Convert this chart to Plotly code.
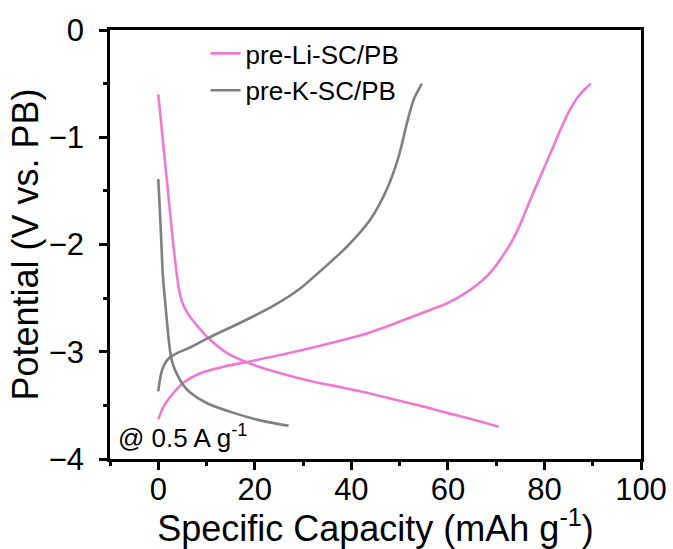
import plotly.graph_objects as go

# ---- data ----
li_dis_x = [0, 1.0, 2.0, 3.0, 3.9, 4.3, 4.9, 5.8, 7.0, 8.5, 10.1, 14.2, 19.0, 25.3, 32.2, 37.7, 43.0, 49.4, 54.0, 59.8, 65.0, 70.5]
li_dis_y = [-0.60, -1.05, -1.50, -1.95, -2.30, -2.42, -2.53, -2.62, -2.70, -2.78, -2.86, -3.01, -3.11, -3.20, -3.28, -3.33, -3.38, -3.45, -3.50, -3.57, -3.63, -3.70]

li_chg_x = [0, 1.0, 2.5, 5.2, 8.7, 13.5, 19.0, 27.3, 35.6, 42.5, 49.4, 56.3, 60.0, 63.0, 65.0, 67.0, 69.0, 71.0, 73.0, 75.0, 77.0, 79.4, 81.8, 83.6, 85.2, 87.0, 88.4, 89.6]
li_chg_y = [-3.63, -3.52, -3.42, -3.29, -3.20, -3.14, -3.09, -3.01, -2.92, -2.84, -2.73, -2.61, -2.545, -2.47, -2.41, -2.34, -2.25, -2.13, -1.99, -1.81, -1.59, -1.34, -1.09, -0.90, -0.75, -0.62, -0.55, -0.50]

k_dis_x = [0, 0.3, 0.6, 0.97, 1.4, 1.8, 2.2, 2.6, 3.2, 4.0, 5.0, 6.6, 10.1, 15.6, 21.1, 27.0]
k_dis_y = [-1.39, -1.65, -1.95, -2.30, -2.52, -2.72, -2.90, -3.04, -3.14, -3.22, -3.30, -3.38, -3.48, -3.57, -3.64, -3.69]

k_chg_x = [0, 0.3, 0.8, 1.5, 2.5, 4.0, 6.6, 10.4, 17.0, 23.9, 29.4, 33.0, 36.0, 39.1, 43.9, 47.3, 49.8, 51.5, 52.9, 54.6]
k_chg_y = [-3.37, -3.27, -3.17, -3.10, -3.05, -3.01, -2.96, -2.87, -2.73, -2.57, -2.41, -2.27, -2.15, -2.02, -1.77, -1.49, -1.18, -0.87, -0.65, -0.50]

series_names = ["pre-Li-SC/PB", "pre-K-SC/PB"]
x_tickvals = [0, 20, 40, 60, 80, 100]
x_ticktext = ["0", "20", "40", "60", "80", "100"]
y_tickvals = [0, -1, -2, -3, -4]
y_ticktext = ["0", "\u22121", "\u22122", "\u22123", "\u22124"]

PINK = "#F07AD3"
GRAY = "#808080"
FONT = "Liberation Sans, Arial, sans-serif"

fig = go.Figure()
lw = 2.6
line_pink = dict(color=PINK, width=lw, shape="spline", smoothing=0.8)
line_gray = dict(color=GRAY, width=lw, shape="spline", smoothing=0.8)
fig.add_trace(go.Scatter(x=li_dis_x, y=li_dis_y, mode="lines", name=series_names[0],
                         line=line_pink, legendgroup="li", showlegend=True))
fig.add_trace(go.Scatter(x=li_chg_x, y=li_chg_y, mode="lines", name=series_names[0],
                         line=line_pink, legendgroup="li", showlegend=False))
fig.add_trace(go.Scatter(x=k_dis_x, y=k_dis_y, mode="lines", name=series_names[1],
                         line=line_gray, legendgroup="k", showlegend=True))
fig.add_trace(go.Scatter(x=k_chg_x, y=k_chg_y, mode="lines", name=series_names[1],
                         line=line_gray, legendgroup="k", showlegend=False))

axis_common = dict(
    showline=True, linecolor="black", linewidth=2.5, mirror=True,
    ticks="outside", ticklen=8, tickwidth=2.5, tickcolor="black",
    showgrid=False, zeroline=False, automargin=False,
    tickfont=dict(family=FONT, size=31, color="black"),
)

fig.update_xaxes(
    range=[-10, 100], tickmode="array", tickvals=x_tickvals, ticktext=x_ticktext,
    title=dict(text="Specific Capacity (mAh g<sup>-1</sup>)", font=dict(family=FONT, size=36, color="black"), standoff=2),
    minor=dict(ticks="outside", ticklen=4, tickwidth=2.5, tickcolor="black", dtick=10, tick0=0, showgrid=False),
    ticklabelstandoff=-7,
    **axis_common,
)
fig.update_yaxes(
    range=[-4, 0], tickmode="array", tickvals=y_tickvals, ticktext=y_ticktext,
    title=dict(text="Potential (V vs. PB)", font=dict(family=FONT, size=36, color="black"), standoff=0),
    minor=dict(ticks="outside", ticklen=4, tickwidth=2.5, tickcolor="black", dtick=0.5, tick0=0, showgrid=False),
    ticklabelstandoff=9,
    **axis_common,
)

fig.add_annotation(text="@ 0.5 A g<sup>-1</sup>", xref="paper", yref="paper", x=0.012, y=0.009,
                   xanchor="left", yanchor="bottom", showarrow=False,
                   font=dict(family=FONT, size=26, color="black"))

fig.update_layout(
    width=673, height=549,
    margin=dict(l=110, r=32, t=30, b=90, autoexpand=False),
    plot_bgcolor="white", paper_bgcolor="white",
    legend=dict(x=0.18, y=1.0, xanchor="left", yanchor="top", bgcolor="rgba(0,0,0,0)",
                font=dict(family=FONT, size=26, color="black"), tracegroupgap=0, itemwidth=30),
    showlegend=True,
)

fig.write_html("out.html", config={"displayModeBar": False},
               post_script="document.body.style.margin='0';document.body.style.padding='0';")
